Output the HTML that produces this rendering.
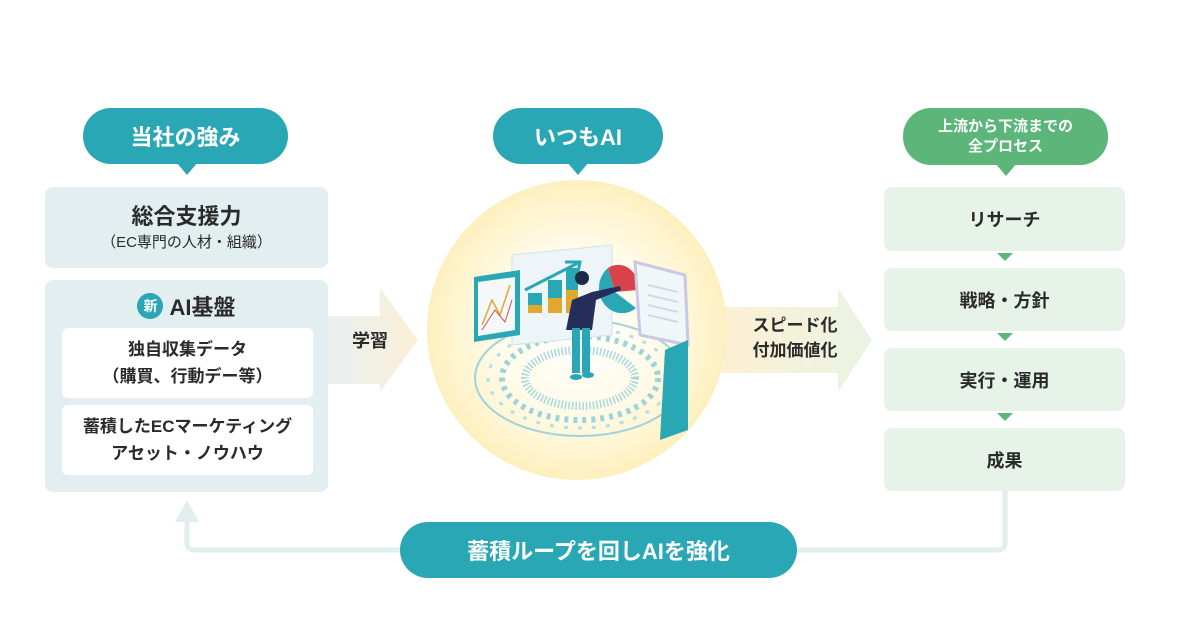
<!DOCTYPE html>
<html><head><meta charset="utf-8">
<style>
*{margin:0;padding:0;box-sizing:border-box}
body{width:1200px;height:643px;background:#fff;position:relative;overflow:hidden;font-family:"Liberation Sans","Noto Sans CJK JP",sans-serif;color:#2a2a2a;font-weight:700}
.a{position:absolute;display:flex;align-items:center;justify-content:center;text-align:center}
.pill{color:#fff;border-radius:28px}
.teal{background:#2aa7b4}
.green{background:#5cb67a}
.lb{background:#e3eef1;border-radius:8px}
.wb{background:#fff;border-radius:6px;font-size:17px;line-height:27px}
.gb{background:#e7f2e9;border-radius:8px;font-size:18px}
</style></head><body>
<svg width="1200" height="643" style="position:absolute;left:0;top:0">
<defs>
<radialGradient id="cg" cx="0.5" cy="0.5" r="0.5">
<stop offset="0" stop-color="#ffffff"/><stop offset="0.55" stop-color="#fffbe9"/><stop offset="1" stop-color="#fdf0bf"/>
</radialGradient>
<linearGradient id="la" x1="0" x2="1"><stop offset="0" stop-color="#e8f0f0"/><stop offset="1" stop-color="#fcefd9"/></linearGradient>
<linearGradient id="ra" x1="0" x2="1"><stop offset="0" stop-color="#fcf0d3"/><stop offset="1" stop-color="#eaf3e4"/></linearGradient>
</defs>
<!-- pill pointers -->
<polygon points="176,162 198,162 187,175" fill="#2aa7b4"/>
<polygon points="567,162 589,162 578,175" fill="#2aa7b4"/>
<polygon points="995,163 1017,163 1006,176" fill="#5cb67a"/>
<!-- arrows -->
<polygon points="328,316 380,316 380,288 418,340 380,392 380,384 328,384" fill="url(#la)"/>
<polygon points="720,307 838,307 838,288 872,340 838,392 838,373 720,373" fill="url(#ra)"/>
<!-- circle -->
<circle cx="577" cy="330" r="150" fill="url(#cg)"/>
<!-- platform -->
<ellipse cx="580" cy="378" rx="105" ry="58" fill="none" stroke="#9fd3dc" stroke-width="2"/>
<ellipse cx="580" cy="378" rx="78" ry="42" fill="none" stroke="#9fd3dc" stroke-width="6" stroke-dasharray="4 5"/>
<ellipse cx="580" cy="378" rx="55" ry="28" fill="none" stroke="#a8d8e0" stroke-width="8" stroke-dasharray="1.5 2"/>
<ellipse cx="580" cy="378" rx="92" ry="50" fill="none" stroke="#b6dfe5" stroke-width="3" stroke-dasharray="4 10"/>
<!-- panels -->
<path d="M512,255 L612,245 L612,335 L512,345 Z" fill="#eef5f8" stroke="#cfe3ea"/>
<rect x="528" y="293" width="14" height="20" fill="#2aa7b4"/><rect x="528" y="305" width="14" height="8" fill="#e0a92b"/>
<rect x="548" y="280" width="14" height="33" fill="#2aa7b4"/><rect x="548" y="298" width="14" height="15" fill="#e0a92b"/>
<rect x="566" y="268" width="12" height="45" fill="#2aa7b4"/><rect x="566" y="290" width="12" height="23" fill="#e0a92b"/>
<polyline points="525,290 580,262 565,262 580,262 578,272" fill="none" stroke="#2aa7b4" stroke-width="3"/>
<path d="M474,277 L520,270 L520,335 L474,342 Z" fill="#2aa7b4"/>
<path d="M478,282 L515,277 L515,330 L478,336 Z" fill="#f4f8fa"/>
<polyline points="482,325 492,300 500,315 510,285" fill="none" stroke="#e0a92b" stroke-width="1.5"/>
<polyline points="482,330 495,310 505,322 512,300" fill="none" stroke="#d9524a" stroke-width="1"/>
<path d="M608,268 A20,22 0 0 1 638,290 L615,292 Z" fill="#d9414b"/>
<path d="M608,268 A22,24 0 1 0 636,308 L615,292 Z" fill="#2aa7b4"/>
<path d="M635,262 L685,275 L688,345 L640,335 Z" fill="#f1f6f8" stroke="#c9c9e6" stroke-width="3"/>
<line x1="648" y1="285" x2="678" y2="292" stroke="#cfdce4" stroke-width="2"/>
<line x1="648" y1="295" x2="678" y2="302" stroke="#cfdce4" stroke-width="2"/>
<line x1="648" y1="305" x2="678" y2="312" stroke="#cfdce4" stroke-width="2"/>
<line x1="648" y1="315" x2="678" y2="322" stroke="#cfdce4" stroke-width="2"/>
<path d="M665,350 L688,340 L688,430 L660,440 Z" fill="#2aa7b4"/>
<!-- person -->
<circle cx="582" cy="278" r="7" fill="#1f2a4a"/>
<path d="M572,300 L592,292 L620,286 L621,290 L596,300 L592,330 L566,330 Z" fill="#252d5a"/>
<rect x="572" y="328" width="8" height="45" fill="#2aa7b4"/><rect x="582" y="328" width="8" height="45" fill="#2aa7b4"/>
<ellipse cx="576" cy="377" rx="6" ry="3" fill="#2aa7b4"/><ellipse cx="588" cy="375" rx="6" ry="3" fill="#2aa7b4"/>
<!-- loop line -->
<path d="M1005,491 L1005,543 Q1005,550 998,550 L194,550 Q187,550 187,543 L187,518" fill="none" stroke="#e2eeee" stroke-width="5"/>
<polygon points="175,522 199,522 187,500" fill="#e2eeee"/>
<!-- process triangles -->
<polygon points="997,253 1013,253 1005,261" fill="#5cb67a"/>
<polygon points="997,333 1013,333 1005,341" fill="#5cb67a"/>
<polygon points="997,413 1013,413 1005,421" fill="#5cb67a"/>
<line x1="1056" y1="370" x2="1056" y2="390" stroke="#333" stroke-width="1"/>
</svg>

<div class="a pill teal" style="left:83px;top:108px;width:205px;height:56px;font-size:22px">当社の強み</div>
<div class="a pill teal" style="left:493px;top:108px;width:170px;height:56px;font-size:22px">いつもAI</div>
<div class="a pill green" style="left:903px;top:108px;width:205px;height:57px;font-size:15px;line-height:20px">上流から下流までの<br>全プロセス</div>

<div class="a lb" style="left:45px;top:187px;width:283px;height:81px;flex-direction:column">
<div style="font-size:22px;line-height:30px">総合支援力</div>
<div style="font-size:15px;line-height:22px;font-weight:400">（EC専門の人材・組織）</div></div>
<div class="lb" style="position:absolute;left:45px;top:280px;width:283px;height:212px"></div>
<div class="a" style="left:45px;top:288px;width:283px;height:36px;font-size:22px">
<span style="display:inline-flex;width:26px;height:26px;border-radius:50%;background:#2aa7b4;color:#fff;font-size:14px;align-items:center;justify-content:center;margin-right:6px">新</span>AI基盤</div>
<div class="a wb" style="left:62px;top:328px;width:251px;height:70px">独自収集データ<br>（購買、行動デー等）</div>
<div class="a wb" style="left:62px;top:405px;width:251px;height:70px">蓄積したECマーケティング<br>アセット・ノウハウ</div>

<div class="a" style="left:330px;top:325px;width:80px;height:30px;font-size:18px">学習</div>
<div class="a" style="left:740px;top:308px;width:110px;height:60px;font-size:17px;line-height:25px">スピード化<br>付加価値化</div>

<div class="a gb" style="left:884px;top:187px;width:241px;height:64px">リサーチ</div>
<div class="a gb" style="left:884px;top:268px;width:241px;height:63px">戦略・方針</div>
<div class="a gb" style="left:884px;top:348px;width:241px;height:63px">実行・運用</div>
<div class="a gb" style="left:884px;top:428px;width:241px;height:63px">成果</div>

<div class="a pill teal" style="left:400px;top:522px;width:397px;height:56px;font-size:22px">蓄積ループを回しAIを強化</div>
</body></html>
